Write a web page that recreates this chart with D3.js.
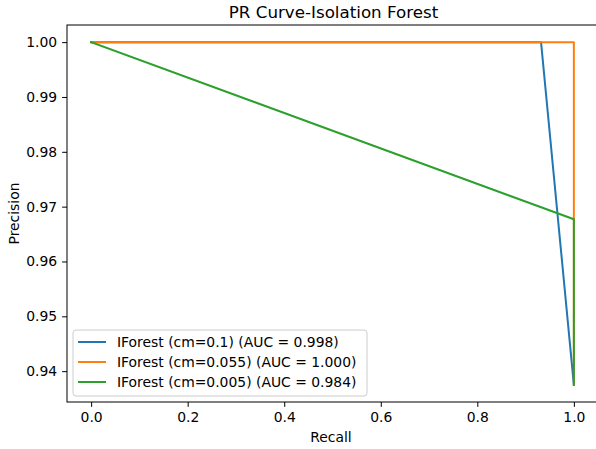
<!DOCTYPE html>
<html>
<head>
<meta charset="utf-8">
<script src="https://cdn.jsdelivr.net/npm/d3@7"></script>
<style>
  body { margin: 0; background: #fff; }
  svg { display: block; font-family: "DejaVu Sans", sans-serif; }
</style>
</head>
<body>
<div id="chart"></div>
<script>
// curve data
const recallBlue = [0, 0.932, 1];
const precisionBlue = [1, 1, 0.9375];
const recallOrange = [0, 1, 1];
const precisionOrange = [1, 1, 0.9375];
const recallGreen = [0, 1, 1];
const precisionGreen = [1, 0.9677, 0.9375];

const seriesNames = [
    "IForest (cm=0.1) (AUC = 0.998)",
    "IForest (cm=0.055) (AUC = 1.000)",
    "IForest (cm=0.005) (AUC = 0.984)"
];
const seriesColors = ["#1f77b4", "#ff7f0e", "#2ca02c"];
const xTicks = [0, 0.2, 0.4, 0.6, 0.8, 1.0];
const yTicks = [0.94, 0.95, 0.96, 0.97, 0.98, 0.99, 1.00];

const W = 596, H = 449;
const margin = {top: 25, right: -2, bottom: 47, left: 67};
const width = W - margin.left - margin.right;
const height = H - margin.top - margin.bottom;

const svg = d3.select("#chart").append("svg")
    .attr("width", W)
    .attr("height", H);

const g = svg.append("g")
    .attr("transform", `translate(${margin.left},${margin.top})`);

// matplotlib style 5% padding
const x = d3.scaleLinear().domain([-0.05, 1.05]).range([0, width]);
const yMin = 0.9375, yMax = 1.0, pad = (yMax - yMin) * 0.05;
const y = d3.scaleLinear().domain([yMin - pad, yMax + pad]).range([height, 0]);

const series = [
    {r: recallBlue, p: precisionBlue},
    {r: recallOrange, p: precisionOrange},
    {r: recallGreen, p: precisionGreen}
];

const line = d3.line().x(d => x(d[0])).y(d => y(d[1]));

g.append("defs").append("clipPath").attr("id", "clip")
    .append("rect").attr("width", width).attr("height", height);

series.forEach((s, i) => {
    g.append("path")
        .datum(s.r.map((v, j) => [v, s.p[j]]))
        .attr("clip-path", "url(#clip)")
        .attr("fill", "none")
        .attr("stroke", seriesColors[i])
        .attr("stroke-width", 2)
        .attr("stroke-linejoin", "round")
        .attr("stroke-linecap", "square")
        .attr("d", line);
});

// axes
const xAxis = g.append("g")
    .attr("transform", `translate(0,${height})`)
    .call(d3.axisBottom(x).tickValues(xTicks).tickFormat(d3.format(".1f")).tickSize(4.9).tickPadding(4.9));
const yAxis = g.append("g")
    .call(d3.axisLeft(y).tickValues(yTicks).tickFormat(d3.format(".2f")).tickSize(4.9).tickPadding(4.9));

[xAxis, yAxis].forEach(a => {
    a.select(".domain").remove();
    a.selectAll("text").attr("font-size", 13.9).attr("fill", "#000").attr("font-family", "DejaVu Sans");
    a.selectAll("line").attr("stroke", "#000").attr("stroke-width", 1);
});

// spines
g.append("rect")
    .attr("width", width).attr("height", height)
    .attr("fill", "none").attr("stroke", "#000").attr("stroke-width", 1);

// title and labels
svg.append("text")
    .attr("x", margin.left + (W - margin.left) / 2 + 2)
    .attr("y", 18)
    .attr("text-anchor", "middle")
    .attr("font-size", 16.7)
    .text("PR Curve-Isolation Forest");

svg.append("text")
    .attr("x", 331)
    .attr("y", 442)
    .attr("text-anchor", "middle")
    .attr("font-size", 13.9)
    .text("Recall");

svg.append("text")
    .attr("transform", `translate(19,${margin.top + height / 2}) rotate(-90)`)
    .attr("text-anchor", "middle")
    .attr("font-size", 13.9)
    .text("Precision");

// legend
const legend = g.append("g").attr("transform", "translate(6,305)");
legend.append("rect")
    .attr("width", 294).attr("height", 66)
    .attr("rx", 3)
    .attr("fill", "#fff").attr("fill-opacity", 0.8)
    .attr("stroke", "#ccc").attr("stroke-width", 1);

seriesNames.forEach((name, i) => {
    const row = legend.append("g").attr("transform", `translate(0,${12 + i * 20})`);
    row.append("line")
        .attr("x1", 5).attr("x2", 33)
        .attr("stroke", seriesColors[i]).attr("stroke-width", 2);
    row.append("text")
        .attr("x", 44).attr("y", 5)
        .attr("font-size", 13.9)
        .text(name);
});
</script>
</body>
</html>
